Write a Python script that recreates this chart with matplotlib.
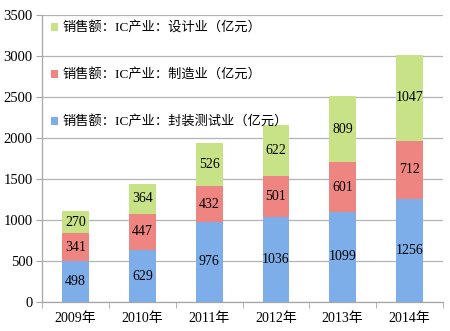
import numpy as np
import matplotlib.pyplot as plt
from matplotlib.ticker import FixedLocator

plt.rcParams['font.family'] = ['Liberation Serif', 'Noto Sans CJK SC']

# data
years = ['2009年', '2010年', '2011年', '2012年', '2013年', '2014年']
packaging = [498, 629, 976, 1036, 1099, 1256]   # 封装测试业
manufacturing = [341, 447, 432, 501, 601, 712]  # 制造业
design = [270, 364, 526, 622, 809, 1047]        # 设计业

c_blue = '#7DAEEA'
c_red = '#EE8580'
c_green = '#C8E387'

fig = plt.figure(figsize=(4.5, 3.31), dpi=100)
ax = fig.add_axes([0.094, 0.088, 0.89, 0.867])

x = np.arange(len(years))
w = 0.4
b1 = ax.bar(x, packaging, w, color=c_blue, label='销售额：IC产业：封装测试业（亿元）', zorder=3)
bottom2 = np.array(packaging)
b2 = ax.bar(x, manufacturing, w, bottom=bottom2, color=c_red, label='销售额：IC产业：制造业（亿元）', zorder=3)
bottom3 = bottom2 + np.array(manufacturing)
b3 = ax.bar(x, design, w, bottom=bottom3, color=c_green, label='销售额：IC产业：设计业（亿元）', zorder=3)

for bars in (b1, b2, b3):
    ax.bar_label(bars, label_type='center', fontsize=10, color='black')

ax.set_xlim(-0.5, 5.5)
ax.set_ylim(0, 3500)
ax.set_yticks(range(0, 3501, 500))
ax.set_xticks(x)
ax.set_xticklabels(years, fontsize=10)
ax.xaxis.set_minor_locator(FixedLocator(np.arange(-0.5, 6, 1)))
ax.tick_params(axis='x', which='major', length=0, pad=7)
ax.tick_params(axis='x', which='minor', length=4, color='#A6A6A6')
ax.tick_params(axis='y', length=4, color='#A6A6A6', labelsize=10.5, pad=3)

ax.grid(axis='y', color='#B3B3B3', linewidth=0.9, zorder=0)
for s in ('top', 'right'):
    ax.spines[s].set_visible(False)
for s in ('left', 'bottom'):
    ax.spines[s].set_color('#A6A6A6')
    ax.spines[s].set_linewidth(0.9)

handles = [b3, b2, b1]
ax.legend(handles, [h.get_label() for h in handles], loc='upper left',
          bbox_to_anchor=(0.022, 0.978), frameon=False, fontsize=9.5,
          handlelength=0.55, handleheight=0.55, handletextpad=0.3,
          labelspacing=2.6, borderaxespad=0, borderpad=0)

fig.savefig('out.png', dpi=100)
